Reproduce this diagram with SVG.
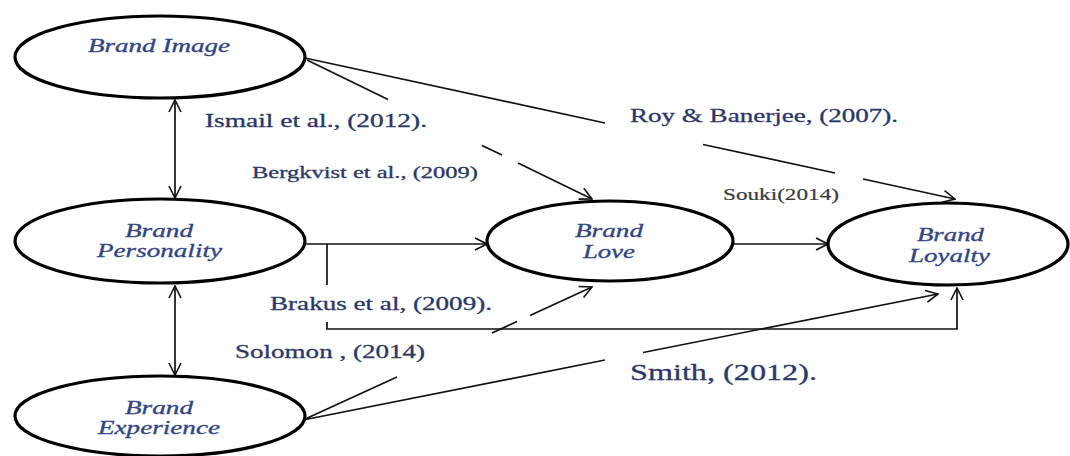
<svg xmlns="http://www.w3.org/2000/svg" width="1070" height="456" viewBox="0 0 1070 456">
<style>
.node ellipse{fill:#fff;stroke:#000;stroke-width:3.2}
.nl{font-family:"Liberation Serif","Times New Roman",serif;font-style:italic;font-size:18px;fill:#34457c;stroke:#34457c;stroke-width:0.3}
.cite{font-family:"Liberation Serif","Times New Roman",serif;fill:#2c3763;stroke:#2c3763;stroke-width:0.3}
.conn line,.conn path{stroke:#111;stroke-width:1.7;fill:none}
</style>
<defs>
<marker id="arr" viewBox="0 0 14 14" refX="13" refY="7" markerWidth="14" markerHeight="14" markerUnits="userSpaceOnUse" orient="auto-start-reverse">
<path d="M1,1 L13,7 L1,13" fill="none" stroke="#111" stroke-width="1.6"/>
</marker>
</defs>
<rect width="1070" height="456" fill="#fff"/>
<g id="connectors" class="conn">
<line x1="175" y1="100" x2="175" y2="198" marker-start="url(#arr)" marker-end="url(#arr)"/>
<line x1="175" y1="286" x2="175" y2="375" marker-start="url(#arr)" marker-end="url(#arr)"/>
<line x1="305" y1="58" x2="605" y2="123"/>
<line x1="703" y1="144.5" x2="835" y2="173"/>
<line x1="863" y1="179" x2="955" y2="199" marker-end="url(#arr)"/>
<line x1="307" y1="60" x2="388" y2="99.5"/>
<line x1="482" y1="145.5" x2="502" y2="155"/>
<line x1="518" y1="163" x2="592" y2="199" marker-end="url(#arr)"/>
<line x1="305" y1="244" x2="487" y2="244" marker-end="url(#arr)"/>
<line x1="733" y1="244" x2="828" y2="244" marker-end="url(#arr)"/>
<line x1="327" y1="244" x2="327" y2="285"/>
<path d="M327,322 V329 H957 V288" marker-end="url(#arr)"/>
<line x1="303" y1="420" x2="397" y2="377"/>
<line x1="492" y1="333" x2="517" y2="321.5"/>
<line x1="530" y1="315.5" x2="592" y2="287" marker-end="url(#arr)"/>
<line x1="303" y1="420" x2="605" y2="360"/>
<line x1="643" y1="352.5" x2="938" y2="294" marker-end="url(#arr)"/>
</g>
<g id="brand-image" class="node">
<ellipse cx="160" cy="57" rx="145" ry="41"/>
<text class="nl" x="88" y="52" textLength="142" lengthAdjust="spacingAndGlyphs">Brand Image</text>
</g>
<g id="brand-personality" class="node">
<ellipse cx="160" cy="241" rx="145" ry="42"/>
<text class="nl" x="125" y="237" textLength="68" lengthAdjust="spacingAndGlyphs">Brand</text>
<text class="nl" x="97" y="257" textLength="125" lengthAdjust="spacingAndGlyphs">Personality</text>
</g>
<g id="brand-experience" class="node">
<ellipse cx="160" cy="416" rx="145" ry="40"/>
<text class="nl" x="125" y="414" textLength="68" lengthAdjust="spacingAndGlyphs">Brand</text>
<text class="nl" x="98" y="434" textLength="122" lengthAdjust="spacingAndGlyphs">Experience</text>
</g>
<g id="brand-love" class="node">
<ellipse cx="610" cy="241" rx="123" ry="40"/>
<text class="nl" x="575" y="237" textLength="68" lengthAdjust="spacingAndGlyphs">Brand</text>
<text class="nl" x="583" y="258" textLength="52" lengthAdjust="spacingAndGlyphs">Love</text>
</g>
<g id="brand-loyalty" class="node">
<ellipse cx="948" cy="244" rx="120" ry="41"/>
<text class="nl" x="917" y="241" textLength="67" lengthAdjust="spacingAndGlyphs">Brand</text>
<text class="nl" x="909" y="262" textLength="81" lengthAdjust="spacingAndGlyphs">Loyalty</text>
</g>
<g id="labels">
<text class="cite" x="205" y="127" font-size="19" textLength="222" lengthAdjust="spacingAndGlyphs">Ismail et al., (2012).</text>
<text class="cite" x="630" y="122" font-size="19" textLength="268" lengthAdjust="spacingAndGlyphs">Roy &amp; Banerjee, (2007).</text>
<text class="cite" x="252" y="178" font-size="16" textLength="226" lengthAdjust="spacingAndGlyphs">Bergkvist et al., (2009)</text>
<text class="cite" x="723" y="200" font-size="17" style="fill:#3a3a3a;stroke:#3a3a3a;stroke-width:0.2" textLength="116" lengthAdjust="spacingAndGlyphs">Souki(2014)</text>
<text class="cite" x="270" y="310" font-size="19" textLength="222" lengthAdjust="spacingAndGlyphs">Brakus et al, (2009).</text>
<text class="cite" x="235" y="358" font-size="19" textLength="190" lengthAdjust="spacingAndGlyphs">Solomon , (2014)</text>
<text class="cite" x="630" y="380" font-size="24" textLength="187" lengthAdjust="spacingAndGlyphs">Smith, (2012).</text>
</g>
</svg>
